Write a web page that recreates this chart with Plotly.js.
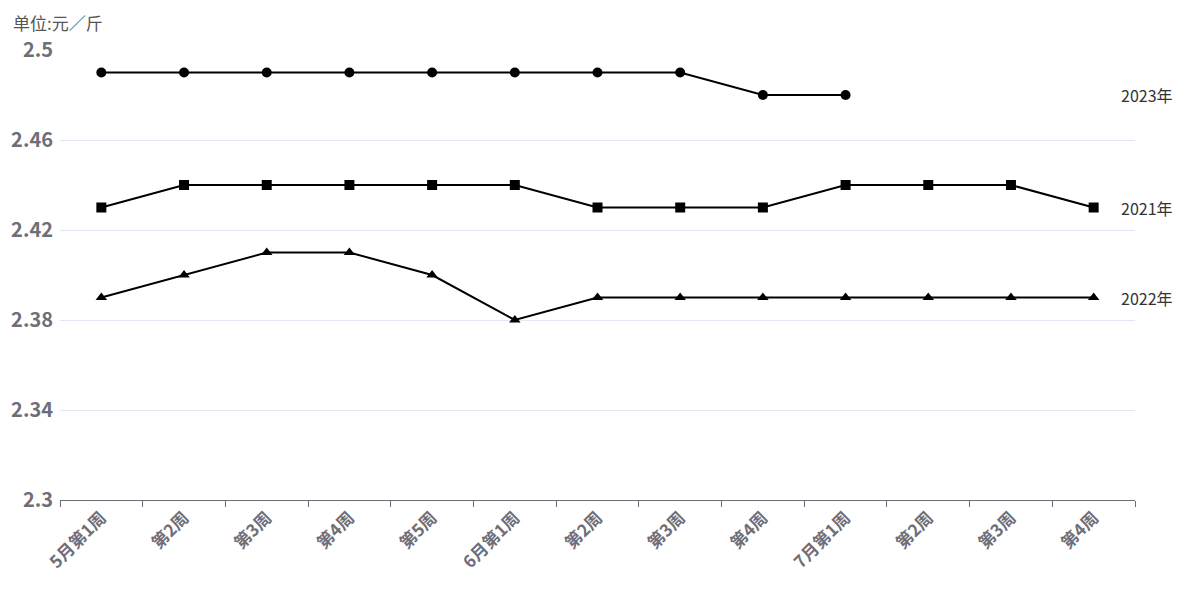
<!DOCTYPE html>
<html><head><meta charset="utf-8">
<script src="https://cdn.plot.ly/plotly-3.0.1.min.js"></script>
<style>html,body{margin:0;padding:0;background:#fff}#chart{width:1200px;height:600px}</style>
</head><body><div id="chart"></div>
<script>
const categories = ['5月第1周','第2周','第3周','第4周','第5周','6月第1周','第2周 ','第3周 ','第4周 ','7月第1周','第2周  ','第3周  ','第4周  '];
const tickLabels = ['5月第1周','第2周','第3周','第4周','第5周','6月第1周','第2周','第3周','第4周','7月第1周','第2周','第3周','第4周'];
const series2023 = [2.49,2.49,2.49,2.49,2.49,2.49,2.49,2.49,2.48,2.48];
const series2021 = [2.43,2.44,2.44,2.44,2.44,2.44,2.43,2.43,2.43,2.44,2.44,2.44,2.43];
const series2022 = [2.39,2.40,2.41,2.41,2.40,2.38,2.39,2.39,2.39,2.39,2.39,2.39,2.39];
const names = ['2023年','2021年','2022年'];
const symbols = ['circle','square','triangle-up'];
const allSeries = [series2023, series2021, series2022];

const traces = allSeries.map((s,i)=>({
  type:'scatter', mode:'lines+markers', name:names[i],
  x: categories.slice(0,s.length), y:s,
  line:{color:'#000',width:2},
  marker:{symbol:symbols[i],size:10,color:'#000'},
  hoverinfo:'y'
}));

const annotations = allSeries.map((s,i)=>({
  xref:'paper', yref:'y', x:0.985, y:s[s.length-1], xanchor:'left', yanchor:'middle',
  text:names[i], showarrow:false, font:{family:'Noto Sans CJK SC, Noto Sans',size:16,color:'#333'}
}));
annotations.push({xref:'paper',yref:'paper',x:-0.046,y:1.06,xanchor:'left',yanchor:'middle',
  text:'单位:元／斤',showarrow:false,font:{family:'Noto Sans CJK SC',size:17,color:'#555'}});

Plotly.newPlot('chart', traces, {
  width:1200,height:600,
  margin:{l:60,r:65,t:50,b:100},
  showlegend:false,
  paper_bgcolor:'#fff',plot_bgcolor:'#fff',
  font:{family:'Noto Sans CJK SC, Noto Sans',color:'#6e6e78'},
  xaxis:{type:'category',categoryorder:'array',categoryarray:categories,
    tickvals:categories,ticktext:tickLabels,
    range:[-0.5,12.5],tickson:'boundaries',ticks:'outside',ticklen:6,tickcolor:'#6e6e78',
    showline:true,linecolor:'#6e6e78',linewidth:1,showgrid:false,zeroline:false,
    tickangle:-45,tickfont:{size:17,color:'#6e6e78',weight:'bold'}},
  yaxis:{range:[2.3,2.5],tick0:2.3,dtick:0.04,showgrid:true,gridcolor:'#e3e6f3',
    zeroline:false,showline:false,ticks:'',ticklen:0,ticklabelstandoff:6,
    tickfont:{size:20,color:'#6e6e78',weight:'bold'}},
  annotations:annotations
},{displayModeBar:false,staticPlot:true});
</script></body></html>
